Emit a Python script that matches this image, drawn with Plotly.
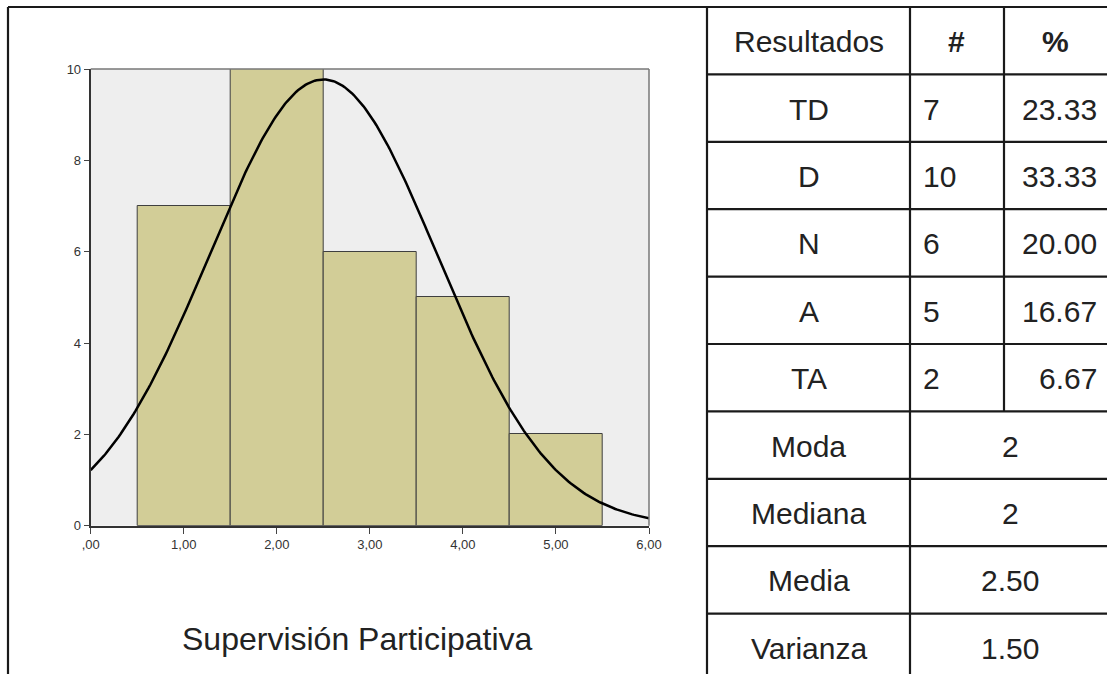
import numpy as np
import plotly.graph_objects as go

# ---- data ----
bin_centers = [1, 2, 3, 4, 5]
categories = ["TD", "D", "N", "A", "TA"]
counts = [7, 10, 6, 5, 2]
percents = ["23.33", "33.33", "20.00", "16.67", "6.67"]
stat_labels = ["Moda", "Mediana", "Media", "Varianza"]
stat_values = ["2", "2", "2.50", "1.50"]
mean_val = 2.50
var_val = 1.50
x_tickvals = [0, 1, 2, 3, 4, 5, 6]
x_ticktext = [",00", "1,00", "2,00", "3,00", "4,00", "5,00", "6,00"]
y_tickvals = [0, 2, 4, 6, 8, 10]
chart_title = "Supervisión Participativa"

W, H = 1107, 674
FONT = "Liberation Sans, Arial, sans-serif"
TXT = "#222222"


def px(x):
    return x / W


def py(y):
    return 1 - y / H


# normal curve fitted from the table statistics (N, mean, variance)
n_total = sum(counts)
sd = np.sqrt(var_val)
xc = np.linspace(0, 6, 300)
yc = n_total * 1.0 / (sd * np.sqrt(2 * np.pi)) * np.exp(-0.5 * ((xc - mean_val) / sd) ** 2)

fig = go.Figure()
fig.add_trace(go.Bar(
    x=bin_centers, y=counts, width=1,
    marker=dict(color="#D2CD97", line=dict(color="#3f3f3f", width=1)),
    hoverinfo="skip", showlegend=False,
))
fig.add_trace(go.Scatter(
    x=xc, y=yc, mode="lines", line=dict(color="black", width=2.5),
    hoverinfo="skip", showlegend=False,
))

x0p, x1p = 90.7, 649
y0p, y1p = 525.7, 69

fig.update_layout(
    width=W, height=H, autosize=False,
    margin=dict(l=0, r=0, t=0, b=0, pad=0, autoexpand=False),
    paper_bgcolor="white", plot_bgcolor="#EEEEEE",
    font=dict(family=FONT, color=TXT),
    bargap=0,
    xaxis=dict(
        domain=[px(x0p), px(x1p)], range=[0, 6],
        tickvals=x_tickvals, ticktext=x_ticktext,
        ticks="outside", ticklen=6, tickcolor="#444", tickwidth=1,
        showline=True, linecolor="#333", linewidth=2,
        showgrid=False, zeroline=False, automargin=False,
        tickfont=dict(size=13, color="#333"),
    ),
    yaxis=dict(
        domain=[py(y0p), py(y1p)], range=[0, 10],
        tickvals=y_tickvals,
        ticks="outside", ticklen=5, tickcolor="#444", tickwidth=1,
        showline=True, linecolor="#333", linewidth=2,
        showgrid=False, zeroline=False, automargin=False,
        tickfont=dict(size=13, color="#333"),
    ),
)

shapes = []
# plot frame (top & right in gray)
shapes.append(dict(type="line", xref="paper", yref="paper",
                   x0=px(x0p), x1=px(x1p), y0=py(y1p), y1=py(y1p),
                   line=dict(color="#777", width=1.5)))
shapes.append(dict(type="line", xref="paper", yref="paper",
                   x0=px(x1p), x1=px(x1p), y0=py(y0p), y1=py(y1p),
                   line=dict(color="#777", width=1.5)))

line_col = "#1a1a1a"
lw = 2.2
# outer border
shapes.append(dict(type="line", xref="paper", yref="paper",
                   x0=px(8), x1=1, y0=py(7), y1=py(7), line=dict(color=line_col, width=lw)))
shapes.append(dict(type="line", xref="paper", yref="paper",
                   x0=px(8), x1=px(8), y0=py(7), y1=0, line=dict(color=line_col, width=lw)))
# table grid
shapes.append(dict(type="line", xref="paper", yref="paper",
                   x0=px(707), x1=px(707), y0=py(7), y1=0, line=dict(color=line_col, width=lw)))
shapes.append(dict(type="line", xref="paper", yref="paper",
                   x0=px(910), x1=px(910), y0=py(7), y1=0, line=dict(color=line_col, width=lw)))
row_h = 67.4
top = 7
n_rows_cat = 1 + len(categories)
shapes.append(dict(type="line", xref="paper", yref="paper",
                   x0=px(1004), x1=px(1004), y0=py(top), y1=py(top + row_h * n_rows_cat),
                   line=dict(color=line_col, width=lw)))
total_rows = 1 + len(categories) + len(stat_labels)
for i in range(1, total_rows):
    yy = top + row_h * i
    shapes.append(dict(type="line", xref="paper", yref="paper",
                       x0=px(707), x1=1, y0=py(yy), y1=py(yy),
                       line=dict(color=line_col, width=lw)))

annotations = []
FS = 30


def add_text(x, y, text, anchor="center", size=FS, bold=False):
    annotations.append(dict(
        x=px(x), y=py(y), xref="paper", yref="paper", text=("<b>%s</b>" % text) if bold else text,
        showarrow=False, xanchor=anchor, yanchor="middle",
        font=dict(family=FONT, size=size, color=TXT),
    ))


def rc(i):
    return top + row_h * (i + 0.5) + 1


add_text(808.5, rc(0), "Resultados")
add_text(956, rc(0), "#", bold=True)
add_text(1055, rc(0), "%", bold=True)
for i, (c, n, p) in enumerate(zip(categories, counts, percents)):
    add_text(808.5, rc(i + 1), c)
    add_text(921, rc(i + 1), str(n), anchor="left")
    add_text(1099, rc(i + 1), p, anchor="right")
for j, (lab, val) in enumerate(zip(stat_labels, stat_values)):
    add_text(808.5, rc(1 + len(categories) + j), lab)
    add_text(1010, rc(1 + len(categories) + j), val)

add_text(357, 639, chart_title, size=32)

fig.update_layout(shapes=shapes, annotations=annotations)
fig.write_html(
    "out.html",
    config={"displayModeBar": False},
    post_script="document.body.style.margin='0';document.body.style.overflow='hidden';"
                "document.documentElement.style.overflow='hidden';",
)
